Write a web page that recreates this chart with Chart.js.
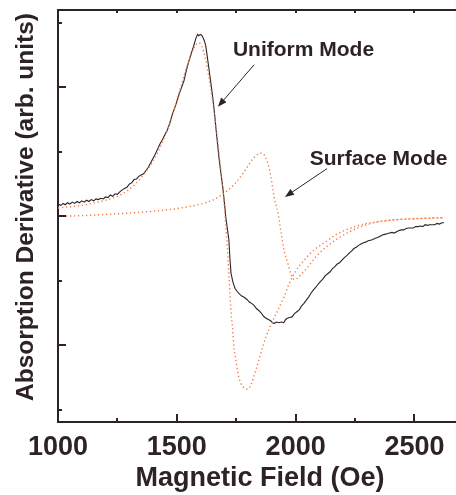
<!DOCTYPE html>
<html>
<head>
<meta charset="utf-8">
<script src="https://cdn.jsdelivr.net/npm/chart.js@4.4.1/dist/chart.umd.min.js"></script>
<style>
  html, body { margin: 0; padding: 0; background: #fff; overflow: hidden; }
  canvas { display: block; }
</style>
</head>
<body>
<canvas id="fmr" width="470" height="495"></canvas>
<script>
// measured derivative trace (Oe, arb. units)
const fieldMeasured = [1000, 1012, 1022, 1030, 1040, 1050, 1060, 1070, 1080, 1090, 1100, 1110, 1120, 1130, 1140, 1150, 1160, 1170, 1180, 1190,
  1200, 1210, 1220, 1230, 1240, 1250, 1260, 1270, 1280, 1290, 1300, 1310, 1320, 1330, 1340, 1350, 1360, 1370, 1380, 1390,
  1400, 1410, 1420, 1430, 1440, 1450, 1460, 1470, 1480, 1490, 1500, 1510, 1520, 1530, 1540, 1550, 1560, 1570, 1580, 1587,
  1592, 1598, 1604, 1609, 1616, 1622, 1628, 1634, 1642, 1651, 1658, 1664, 1670, 1677, 1685, 1693, 1700, 1706, 1713, 1719,
  1723, 1728, 1736, 1745, 1755, 1765, 1775, 1785, 1795, 1805, 1815, 1825, 1835, 1845, 1855, 1865, 1875, 1885, 1895, 1902,
  1910, 1920, 1930, 1940, 1950, 1958, 1965, 1975, 1985, 1995, 2005, 2015, 2025, 2035, 2045, 2055, 2065, 2075, 2085, 2095,
  2105, 2115, 2125, 2135, 2145, 2155, 2165, 2175, 2185, 2195, 2205, 2215, 2225, 2235, 2245, 2255, 2265, 2275, 2285, 2295,
  2305, 2315, 2325, 2335, 2345, 2355, 2365, 2375, 2385, 2395, 2405, 2415, 2425, 2435, 2445, 2455, 2465, 2475, 2485, 2495,
  2505, 2515, 2525, 2535, 2545, 2555, 2565, 2575, 2585, 2595, 2605, 2615, 2624];
const absMeasured = [0.19, 0.17, 0.20, 0.18, 0.21, 0.19, 0.22, 0.20, 0.23, 0.21, 0.24, 0.22, 0.25, 0.23, 0.26, 0.24, 0.27, 0.26, 0.28, 0.27,
  0.30, 0.29, 0.33, 0.31, 0.35, 0.34, 0.38, 0.41, 0.43, 0.45, 0.50, 0.52, 0.57, 0.58, 0.62, 0.64, 0.66, 0.71, 0.76, 0.83,
  0.90, 0.97, 1.05, 1.13, 1.19, 1.27, 1.34, 1.44, 1.57, 1.67, 1.78, 1.90, 2.00, 2.10, 2.26, 2.40, 2.52, 2.63, 2.76, 2.82,
  2.80, 2.82, 2.81, 2.78, 2.72, 2.64, 2.48, 2.32, 2.10, 1.85, 1.62, 1.39, 1.17, 0.92, 0.68, 0.46, 0.22, -0.01, -0.20, -0.36,
  -0.63, -0.88, -1.02, -1.12, -1.17, -1.21, -1.24, -1.26, -1.29, -1.33, -1.35, -1.38, -1.43, -1.46, -1.50, -1.55, -1.58, -1.60, -1.62, -1.65,
  -1.66, -1.64, -1.65, -1.64, -1.65, -1.60, -1.58, -1.57, -1.56, -1.51, -1.48, -1.45, -1.39, -1.35, -1.30, -1.25, -1.19, -1.14, -1.10, -1.05,
  -1.01, -0.97, -0.92, -0.89, -0.86, -0.81, -0.78, -0.74, -0.72, -0.68, -0.64, -0.61, -0.57, -0.54, -0.50, -0.48, -0.45, -0.43, -0.41, -0.40,
  -0.38, -0.37, -0.36, -0.34, -0.33, -0.31, -0.29, -0.28, -0.27, -0.26, -0.25, -0.26, -0.24, -0.22, -0.21, -0.21, -0.19, -0.18, -0.18, -0.18,
  -0.16, -0.16, -0.15, -0.16, -0.13, -0.14, -0.13, -0.13, -0.13, -0.11, -0.12, -0.10, -0.10];

// uniform mode fit
const fieldUniform = [1000, 1100, 1200, 1250, 1300, 1350, 1400, 1450, 1480, 1500, 1520, 1540, 1560, 1575, 1592, 1605, 1620, 1635, 1650, 1665,
  1680, 1695, 1700, 1710, 1720, 1727, 1736, 1740, 1748, 1761, 1780, 1799, 1812, 1833, 1854, 1875, 1896, 1926, 1951, 1972,
  2002, 2036, 2078, 2121, 2163, 2205, 2268, 2330, 2400, 2480, 2550, 2624];
const uniformFit = [0.13, 0.17, 0.25, 0.31, 0.42, 0.60, 0.86, 1.24, 1.55, 1.80, 2.05, 2.30, 2.50, 2.63, 2.69, 2.64, 2.45, 2.15, 1.80, 1.38,
  0.90, 0.35, 0.15, -0.35, -0.95, -1.42, -1.81, -2.02, -2.22, -2.50, -2.65, -2.68, -2.61, -2.38, -2.12, -1.87, -1.68, -1.45, -1.25, -1.05,
  -0.84, -0.68, -0.52, -0.41, -0.30, -0.22, -0.14, -0.09, -0.06, -0.04, -0.03, -0.02];

// surface mode fit
const fieldSurface = [1000, 1100, 1200, 1300, 1400, 1500, 1600, 1650, 1700, 1750, 1790, 1820, 1845, 1860, 1875, 1885, 1896, 1909, 1926, 1939,
  1951, 1968, 1981, 1994, 2010, 2023, 2053, 2078, 2100, 2137, 2180, 2222, 2268, 2330, 2400, 2480, 2550, 2624];
const surfaceFit = [0.00, 0.01, 0.03, 0.05, 0.08, 0.12, 0.19, 0.25, 0.36, 0.53, 0.73, 0.89, 0.97, 0.98, 0.90, 0.80, 0.61, 0.30, 0.05, -0.26,
  -0.52, -0.74, -0.90, -0.98, -0.95, -0.90, -0.78, -0.66, -0.57, -0.45, -0.34, -0.25, -0.17, -0.10, -0.06, -0.04, -0.03, -0.02];

const xMajorTicks = [1000, 1500, 2000, 2500];
const xMinorTicks = [1250, 1750, 2250];
const yMajorTicks = [-2, 0, 2];
const yMinorTicks = [-3, -1, 1, 3];

const notes = [
  { text: 'Uniform Mode', at: [2033, 2.57], from: [1825, 2.35], to: [1673, 1.70] },
  { text: 'Surface Mode', at: [2349, 0.89], from: [2132, 0.74], to: [1955, 0.30] }
];

const ink = '#2e2229';
const fitColor = '#ef7d48';
const font = '"Liberation Sans", Arial, Helvetica, sans-serif';

const toPoints = (xs, ys) => xs.map((v, i) => ({ x: v, y: ys[i] }));

// inward tick marks, annotations and the rotated y title
const decorations = {
  id: 'decorations',
  afterDraw(chart) {
    const { ctx, chartArea: a, scales: { x, y } } = chart;
    ctx.save();
    ctx.strokeStyle = ink;
    ctx.lineWidth = 2;
    ctx.beginPath();
    xMajorTicks.forEach(v => {
      const px = Math.round(x.getPixelForValue(v));
      ctx.moveTo(px, a.bottom); ctx.lineTo(px, a.bottom - 8);
    });
    xMinorTicks.forEach(v => {
      const px = Math.round(x.getPixelForValue(v));
      ctx.moveTo(px, a.bottom); ctx.lineTo(px, a.bottom - 4);
    });
    xMajorTicks.concat(xMinorTicks).filter(v => v > x.min).forEach(v => {
      const px = Math.round(x.getPixelForValue(v));
      ctx.moveTo(px, a.top); ctx.lineTo(px, a.top + 3);
    });
    yMajorTicks.forEach(v => {
      const py = Math.round(y.getPixelForValue(v));
      ctx.moveTo(a.left, py); ctx.lineTo(a.left + 8, py);
    });
    yMinorTicks.forEach(v => {
      const py = Math.round(y.getPixelForValue(v));
      ctx.moveTo(a.left, py); ctx.lineTo(a.left + 4, py);
    });
    ctx.stroke();

    // labelled arrows
    ctx.fillStyle = ink;
    ctx.lineWidth = 1;
    ctx.font = 'bold 21px ' + font;
    ctx.textAlign = 'center';
    ctx.textBaseline = 'middle';
    notes.forEach(n => {
      ctx.fillText(n.text, x.getPixelForValue(n.at[0]), y.getPixelForValue(n.at[1]));
      const x0 = x.getPixelForValue(n.from[0]), y0 = y.getPixelForValue(n.from[1]);
      const x1 = x.getPixelForValue(n.to[0]), y1 = y.getPixelForValue(n.to[1]);
      const ang = Math.atan2(y1 - y0, x1 - x0);
      ctx.beginPath();
      ctx.moveTo(x0, y0);
      ctx.lineTo(x1 - 6 * Math.cos(ang), y1 - 6 * Math.sin(ang));
      ctx.stroke();
      ctx.beginPath();
      ctx.moveTo(x1, y1);
      ctx.lineTo(x1 - 9 * Math.cos(ang) + 3.5 * Math.sin(ang), y1 - 9 * Math.sin(ang) - 3.5 * Math.cos(ang));
      ctx.lineTo(x1 - 9 * Math.cos(ang) - 3.5 * Math.sin(ang), y1 - 9 * Math.sin(ang) + 3.5 * Math.cos(ang));
      ctx.closePath();
      ctx.fill();
    });

    ctx.translate(26.5, 207);
    ctx.rotate(-Math.PI / 2);
    ctx.font = 'bold 24.5px ' + font;
    ctx.fillText('Absorption Derivative (arb. units)', 0, 0);
    ctx.restore();
  }
};

new Chart(document.getElementById('fmr'), {
  type: 'line',
  data: {
    datasets: [
      {
        data: toPoints(fieldUniform, uniformFit),
        borderColor: fitColor, borderWidth: 1.4, borderDash: [1.3, 2.7],
        cubicInterpolationMode: 'monotone', pointRadius: 0, order: 1
      },
      {
        data: toPoints(fieldSurface, surfaceFit),
        borderColor: fitColor, borderWidth: 1.4, borderDash: [1.3, 2.7],
        cubicInterpolationMode: 'monotone', pointRadius: 0, order: 2
      },
      {
        data: toPoints(fieldMeasured, absMeasured),
        borderColor: ink, borderWidth: 1.1, tension: 0,
        pointRadius: 0, order: 3
      }
    ]
  },
  options: {
    responsive: false,
    animation: false,
    devicePixelRatio: 1,
    layout: { padding: { left: 0, right: 8, top: 0, bottom: 0 } },
    plugins: { legend: { display: false }, tooltip: { enabled: false } },
    scales: {
      x: {
        type: 'linear', position: 'bottom', min: 1000, max: 2700,
        afterBuildTicks: s => { s.ticks = xMajorTicks.map(v => ({ value: v })); },
        afterFit: s => { s.height = 73; },
        grid: { display: false, drawTicks: false },
        border: { display: true, color: ink, width: 2 },
        ticks: {
          color: ink, padding: 9, maxRotation: 0,
          callback: v => String(v),
          font: { family: font, size: 27, weight: 'bold' }
        },
        title: {
          display: true, text: 'Magnetic Field (Oe)', color: ink, padding: 0,
          font: { family: font, size: 27, weight: 'bold' }
        }
      },
      xTop: {
        type: 'linear', position: 'top', min: 1000, max: 2700,
        afterFit: s => { s.height = 10; },
        grid: { display: false, drawTicks: false },
        border: { display: true, color: ink, width: 2 },
        ticks: { display: false }
      },
      y: {
        type: 'linear', position: 'left', min: -3.19, max: 3.2,
        afterFit: s => { s.width = 58; },
        grid: { display: false, drawTicks: false },
        border: { display: true, color: ink, width: 2 },
        ticks: { display: false }
      }
    }
  },
  plugins: [decorations]
});
</script>
</body>
</html>
